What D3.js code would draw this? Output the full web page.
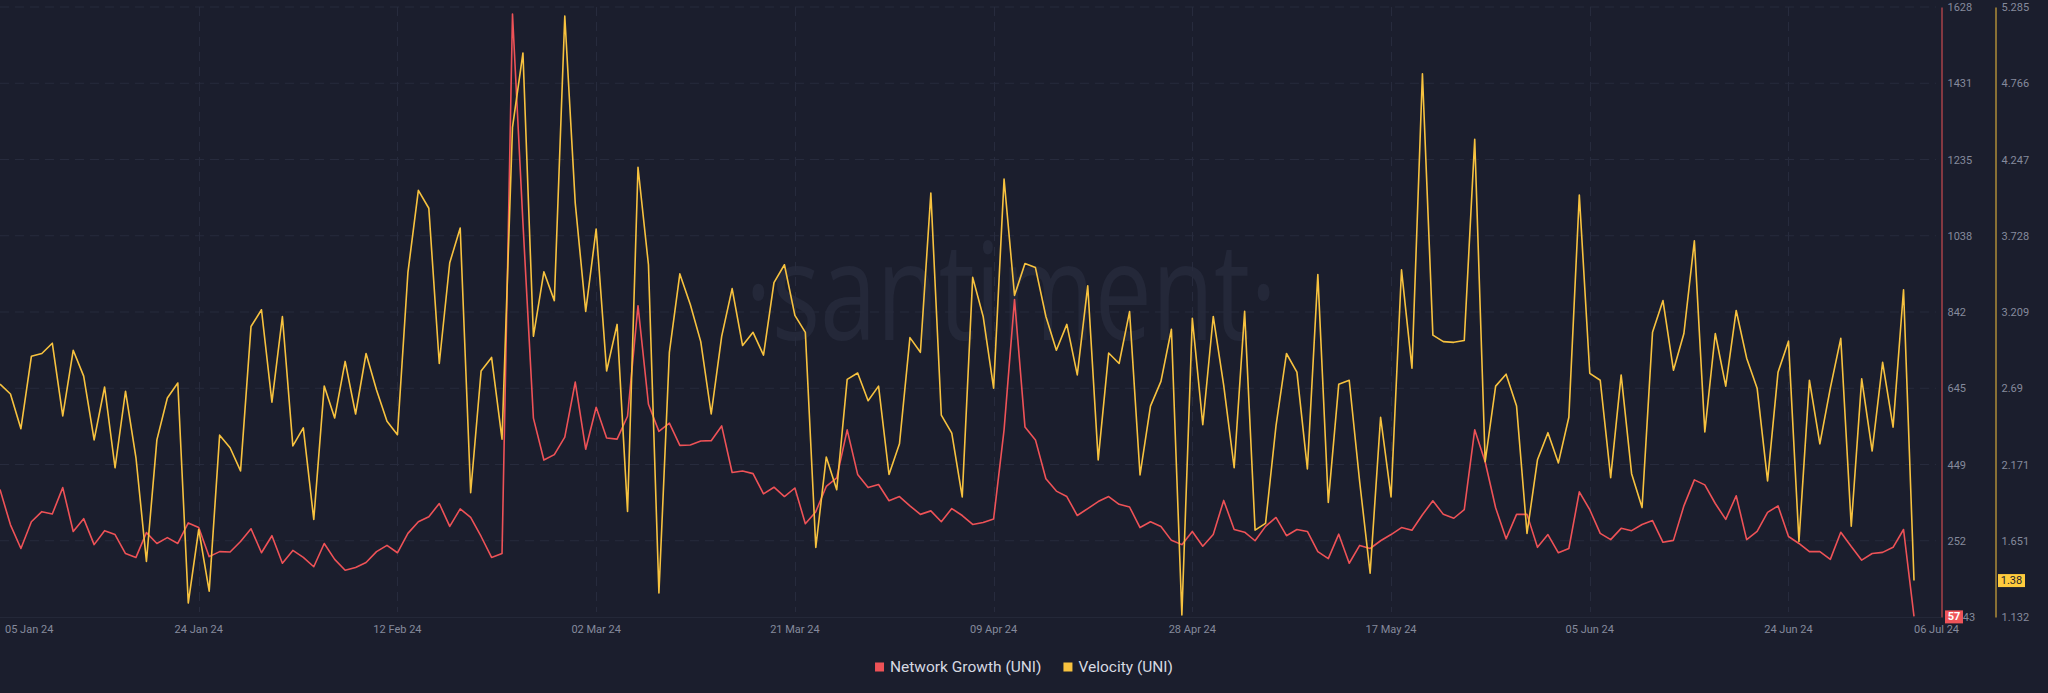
<!DOCTYPE html>
<html><head><meta charset="utf-8">
<script src="https://cdn.jsdelivr.net/npm/d3@7"></script>
<style>
html,body{margin:0;padding:0;background:#1b1e2d;}
svg{display:block;}
text{font-family:Roboto,"Noto Sans",sans-serif;}
</style></head><body>
<svg id="chart" width="2048" height="693"></svg>
<script>
// ---- data ----
const dateStart = "2024-01-05";
const dateEnd = "2024-07-06";
const seriesNames = ["Network Growth (UNI)", "Velocity (UNI)"];
const networkGrowth = [
384,293,232,301,327,321,389,276,309,242,
278,268,219,209,273,245,260,245,298,286,
211,224,223,250,283,221,265,194,227,209,
185,245,204,176,183,196,224,240,221,271,
301,314,348,289,334,312,263,209,219,1610,
1071,568,460,474,519,661,488,596,517,514,
573,858,604,534,555,498,499,509,510,548,
428,432,425,373,390,366,388,296,327,392,
414,538,423,389,397,355,366,342,320,329,
301,335,317,294,299,308,538,874,545,512,
412,380,366,317,335,353,366,346,339,286,
301,289,253,242,276,238,268,356,281,274,
252,289,312,265,281,276,224,206,269,194,
240,232,252,268,286,279,319,355,320,310,
332,538,455,337,257,320,320,235,268,221,
232,378,332,271,255,284,278,294,304,248,
253,342,409,396,348,307,368,255,276,325,
342,263,245,224,224,204,274,237,202,219,
222,235,281,57];
const velocity = [
2.717,2.650,2.414,2.907,2.926,2.996,2.501,2.948,2.772,2.338,
2.698,2.148,2.669,2.216,1.511,2.338,2.623,2.725,1.227,1.728,
1.308,2.370,2.284,2.127,3.110,3.224,2.595,3.178,2.297,2.419,
1.796,2.704,2.487,2.872,2.514,2.926,2.677,2.465,2.373,3.476,
4.037,3.915,2.858,3.544,3.780,1.978,2.807,2.899,2.343,4.465,
4.972,3.043,3.482,3.286,5.224,3.950,3.213,3.774,2.807,3.124,
1.850,4.194,3.530,1.295,2.934,3.468,3.259,3.007,2.514,3.043,
3.368,2.980,3.070,2.915,3.408,3.530,3.186,3.070,1.606,2.221,
1.999,2.750,2.793,2.604,2.704,2.102,2.311,3.034,2.934,4.018,
2.506,2.384,1.950,3.444,3.178,2.690,4.113,3.322,3.538,3.511,
3.178,2.948,3.124,2.780,3.387,2.202,2.929,2.858,3.211,2.099,
2.568,2.736,3.091,1.146,3.165,2.441,3.178,2.709,2.148,3.213,
1.723,1.769,2.433,2.926,2.799,2.140,3.463,1.912,2.717,2.744,
2.053,1.430,2.492,1.950,3.495,2.826,4.831,3.051,3.007,3.002,
3.015,4.384,2.189,2.704,2.785,2.568,1.701,2.202,2.387,2.181,
2.492,4.005,2.791,2.744,2.081,2.780,2.108,1.877,3.070,3.286,
2.812,3.062,3.693,2.392,3.062,2.704,3.219,2.894,2.690,2.059,
2.799,3.010,1.647,2.744,2.311,2.690,3.029,1.750,2.753,2.262,
2.866,2.425,3.360,1.38];
const xTickDates = ["2024-01-05","2024-01-24","2024-02-12","2024-03-02","2024-03-21","2024-04-09","2024-04-28","2024-05-17","2024-06-05","2024-06-24","2024-07-06"];
const xTickLabels = ["05 Jan 24","24 Jan 24","12 Feb 24","02 Mar 24","21 Mar 24","09 Apr 24","28 Apr 24","17 May 24","05 Jun 24","24 Jun 24","06 Jul 24"];
const growthDomain = [55.43, 1628];
const velocityDomain = [1.132, 5.285];
const growthTickLabels = ["55.43","252","449","645","842","1038","1235","1431","1628"];
const velocityTickLabels = ["1.132","1.651","2.171","2.69","3.209","3.728","4.247","4.766","5.285"];

// ---- setup ----
const C = {bg:"#1b1e2d", grid:"#272b3d", red:"#ee5257", yellow:"#f7c23f", tick:"#858a9c", legend:"#d6d9e1", wm:"#242839"};
const parse = d3.utcParse("%Y-%m-%d");
const dates = d3.utcDay.range(parse(dateStart), d3.utcDay.offset(parse(dateEnd), 1));
const rows = dates.map((d,i)=>({date:d, g:networkGrowth[i], v:velocity[i]}));

const svg = d3.select("#chart");
svg.append("rect").attr("width",2048).attr("height",693).attr("fill",C.bg);

const plotTop = 7, plotBottom = 617, plotLeft = 0, lastX = 1914, redAxisX = 1941, yellowAxisX = 1995;
const x = d3.scaleUtc().domain([parse(dateStart), parse(dateEnd)]).range([plotLeft, lastX]);
const yG = d3.scaleLinear().domain(growthDomain).range([plotBottom, plotTop]);
const yV = d3.scaleLinear().domain(velocityDomain).range([plotBottom, plotTop]);
const gTicks = growthTickLabels.map((_,i)=>growthDomain[0] + i*(growthDomain[1]-growthDomain[0])/(growthTickLabels.length-1));
const vTicks = velocityTickLabels.map((_,i)=>velocityDomain[0] + i*(velocityDomain[1]-velocityDomain[0])/(velocityTickLabels.length-1));

// watermark
svg.append("text").text("·santiment·")
  .attr("x",745).attr("y",340).attr("textLength",532).attr("lengthAdjust","spacingAndGlyphs")
  .attr("font-size",136).attr("fill",C.wm).style("font-family","'Open Sans',sans-serif");

// horizontal gridlines
svg.append("g").selectAll("line").data(gTicks.slice(1)).join("line")
  .attr("x1",0).attr("x2",1936).attr("y1",d=>yG(d)).attr("y2",d=>yG(d))
  .attr("stroke",C.grid).attr("stroke-dasharray","9,6");
// baseline
svg.append("line").attr("x1",0).attr("x2",redAxisX).attr("y1",plotBottom+0.5).attr("y2",plotBottom+0.5)
  .attr("stroke","#242838");
// vertical gridlines
const xt = xTickDates.map(parse);
svg.append("g").selectAll("line").data(xt.slice(1,-1)).join("line")
  .attr("x1",d=>Math.round(x(d))+0.5).attr("x2",d=>Math.round(x(d))+0.5).attr("y1",plotTop).attr("y2",612)
  .attr("stroke",C.grid).attr("stroke-dasharray","9,6");

// x tick labels
svg.append("g").selectAll("text").data(xt).join("text")
  .attr("x",(d,i)=> i===0 ? 5 : x(d))
  .attr("y",633)
  .attr("text-anchor",(d,i)=> (i===0||i===xt.length-1) ? "start" : "middle")
  .attr("font-size",11).attr("fill",C.tick)
  .text((d,i)=>xTickLabels[i]);

// lines
const lineG = d3.line().x(d=>x(d.date)).y(d=>yG(d.g));
const lineV = d3.line().x(d=>x(d.date)).y(d=>yV(d.v));
svg.append("path").datum(rows).attr("d",lineG).attr("fill","none").attr("stroke",C.red).attr("stroke-width",1.6).attr("stroke-linejoin","round");
svg.append("path").datum(rows).attr("d",lineV).attr("fill","none").attr("stroke",C.yellow).attr("stroke-width",1.6).attr("stroke-linejoin","round");

// right axes
const axG = svg.append("g").attr("transform",`translate(${redAxisX+0.5},0)`)
  .call(d3.axisRight(yG).tickValues(gTicks).tickFormat((d,i)=>growthTickLabels[i]).tickSize(0).tickPadding(6).tickSizeOuter(0));
axG.select(".domain").attr("stroke",C.red);
axG.selectAll("text").attr("fill",C.tick).attr("font-size",11).style("font-family","Roboto,sans-serif");
const axV = svg.append("g").attr("transform",`translate(${yellowAxisX+0.5},0)`)
  .call(d3.axisRight(yV).tickValues(vTicks).tickFormat((d,i)=>velocityTickLabels[i]).tickSize(0).tickPadding(6).tickSizeOuter(0));
axV.select(".domain").attr("stroke",C.yellow);
axV.selectAll("text").attr("fill",C.tick).attr("font-size",11).style("font-family","Roboto,sans-serif");

// last value badges
const lastG = networkGrowth[networkGrowth.length-1], lastV = velocity[velocity.length-1];
svg.append("rect").attr("x",1945).attr("y",yG(lastG)-6).attr("width",18).attr("height",13).attr("fill","#f05459");
svg.append("text").attr("x",1954).attr("y",yG(lastG)+0.5).attr("text-anchor","middle").attr("dominant-baseline","middle")
  .attr("font-size",11).attr("font-weight","bold").attr("fill","#ffffff").text(lastG);
svg.append("rect").attr("x",1998).attr("y",yV(lastV)-6.5).attr("width",27).attr("height",13).attr("fill","#ffcb3d");
svg.append("text").attr("x",2011.5).attr("y",yV(lastV)+0.5).attr("text-anchor","middle").attr("dominant-baseline","middle")
  .attr("font-size",11).attr("fill","#1b1e2d").text(lastV.toFixed(2));

// legend
const legend = svg.append("g");
const legColors = [C.red, C.yellow];
let lx = 0;
seriesNames.forEach((name,i)=>{
  const g = legend.append("g").attr("transform",`translate(${lx},0)`);
  g.append("rect").attr("x",0).attr("y",-4.5).attr("width",9).attr("height",9).attr("fill",legColors[i]);
  const t = g.append("text").attr("x",15).attr("y",0.5).attr("dominant-baseline","middle").attr("font-size",15.5).attr("fill",C.legend).text(name);
  lx += 15 + t.node().getComputedTextLength() + 22;
});
lx -= 22;
legend.attr("transform",`translate(${1024 - lx/2},667)`);
</script>
</body></html>
